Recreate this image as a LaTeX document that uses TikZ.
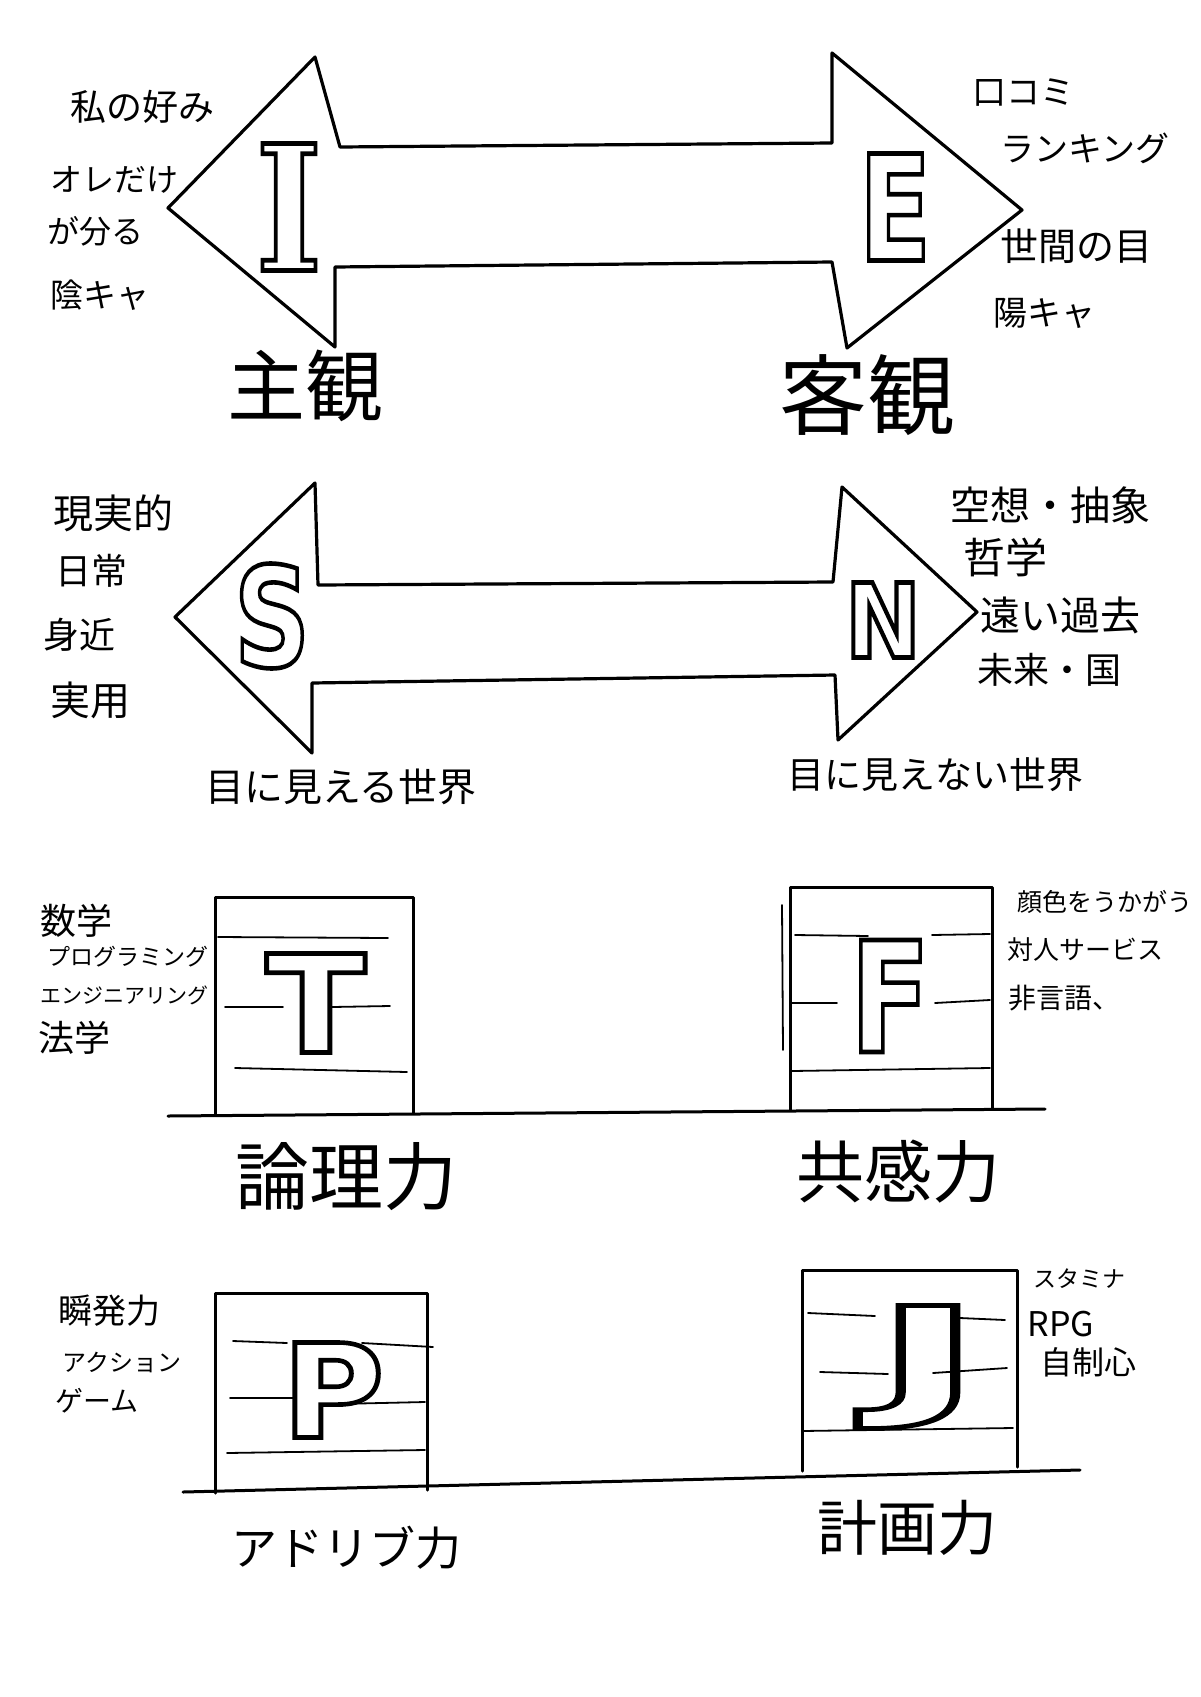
\documentclass[tikz,border=0pt]{standalone}
\usepackage{fontspec}
\usepackage{graphicx}
\newfontfamily\jpf{Noto Sans CJK JP}
\newfontfamily\letf{DejaVu Sans}
\newfontfamily\serf{DejaVu Serif}
\newcommand\fsz[1]{\fontsize{#1}{#1}\selectfont}
% #1 width, #2 total height, #3 font size, #4 letter
\newcommand\outl[4]{\resizebox*{#1}{#2}{\fsz{#3}\special{pdf:literal direct 1 Tr 2.3 w}#4\special{pdf:literal direct 0 Tr}}}
\tikzset{
  bigarrow/.style={line width=1.6pt, line join=round},
  boxline/.style={line width=1.5pt, line join=round, line cap=round},
  stripe/.style={line width=0.9pt, line cap=round},
  groundline/.style={line width=1.5pt, line cap=round},
  jp/.style={font=\jpf, inner sep=0pt, anchor=west},
  lbl/.style={font=\jpf, inner sep=0pt, anchor=center},
  letter/.style={inner sep=0pt, anchor=center}
}
\begin{document}
\begin{tikzpicture}[x=0.5pt, y=-0.5pt]
\fill[white] (0,0) rectangle (1200,1697);
\path[use as bounding box] (0,0) rectangle (1200,1697);

% ---------- I / E arrow ----------
\draw[bigarrow] (168,208) -- (315,57) -- (340,147) -- (832,143) -- (832,53)
  -- (1022,210) -- (847,348) -- (832,262) -- (335,267) -- (335,347) -- cycle;
\node[letter] (letI) at (289,207) {\outl{33pt}{63.5pt}{87pt}{\serf\bfseries I}};
\node[letter] (letE) at (895,207) {\outl{36pt}{53.5pt}{73pt}{\letf\bfseries E}};

\node[jp] (i1) at (70,107) {\fsz{18pt}私の好み};
\node[jp] (i2) at (50,180) {\fsz{16pt}オレだけ};
\node[jp] (i3) at (47,231) {\fsz{16pt}が分る};
\node[jp] (i4) at (50,295) {\fsz{16.5pt}陰キャ};
\node[jp] (e1) at (972,93) {\fsz{17pt}口コミ};
\node[jp] (e2) at (1000,148) {\fsz{17pt}ランキング};
\node[jp] (e3) at (1000,246) {\fsz{19pt}世間の目};
\node[jp] (e4) at (993,313) {\fsz{17pt}陽キャ};
\node[lbl] (labI) at (305,386) {\fsz{39pt}主観};
\node[lbl] (labE) at (867,395) {\fsz{44pt}客観};

% ---------- S / N arrow ----------
\draw[bigarrow] (175,617) -- (315,483) -- (318,585) -- (833,582) -- (842,487)
  -- (977,612) -- (838,740) -- (835,675) -- (312,683) -- (312,753) -- cycle;
\node[letter] (letS) at (272,616) {\outl{38pt}{52.5pt}{70pt}{\letf\bfseries S}};
\node[letter] (letN) at (883,620) {\outl{38pt}{37.5pt}{51pt}{\letf\bfseries N}};

\node[jp] (s1) at (53,513) {\fsz{20pt}現実的};
\node[jp] (s2) at (55,571) {\fsz{18pt}日常};
\node[jp] (s3) at (43,635) {\fsz{18pt}身近};
\node[jp] (s4) at (50,700) {\fsz{20pt}実用};
\node[jp] (n1) at (950,505) {\fsz{20pt}空想・抽象};
\node[jp] (n2) at (963,557) {\fsz{21pt}哲学};
\node[jp] (n3) at (980,615) {\fsz{20pt}遠い過去};
\node[jp] (n4) at (977,670) {\fsz{18pt}未来・国};
\node[lbl] (labS) at (341,787) {\fsz{19.5pt}目に見える世界};
\node[lbl] (labN) at (935,775) {\fsz{18.5pt}目に見えない世界};

% ---------- T / F ----------
\draw[groundline] (168,1116) -- (1045,1109);
\draw[boxline] (215,1114) -- (215,897) -- (413,897) -- (413,1113);
\draw[stripe] (218,937) -- (388,938);
\draw[stripe] (225,1007) -- (283,1007);
\draw[stripe] (332,1007) -- (390,1006);
\draw[stripe] (235,1068) -- (407,1072);
\node[letter] (letT) at (316,1003) {\outl{50pt}{49.5pt}{68pt}{\letf\bfseries T}};

\draw[boxline] (790,1110) -- (790,887) -- (992,887) -- (992,1109);
\draw[stripe] (782,905) -- (783,1050);
\draw[stripe] (795,935) -- (868,936);
\draw[stripe] (932,935) -- (990,934);
\draw[stripe] (790,1003) -- (837,1003);
\draw[stripe] (935,1003) -- (990,1000);
\draw[stripe] (792,1071) -- (990,1068);
\node[letter] (letF) at (890,996) {\outl{40pt}{56pt}{77pt}{\letf\bfseries F}};

\node[jp] (t1) at (40,921) {\fsz{18pt}数学};
\node[jp] (t2) at (47,957) {\fsz{11.5pt}プログラミング};
\node[jp] (t3) at (40,995) {\fsz{10.5pt}エンジニアリング};
\node[jp] (t4) at (38,1038) {\fsz{18pt}法学};
\node[jp] (f1) at (1017,902) {\fsz{12.5pt}顔色をうかがう};
\node[jp] (f2) at (1007,950) {\fsz{13pt}対人サービス};
\node[jp] (f3) at (1008,998) {\fsz{14pt}非言語、};
\node[lbl] (labT) at (346,1177) {\fsz{37pt}論理力};
\node[lbl] (labF) at (898,1172) {\fsz{34pt}共感力};

% ---------- P / J ----------
\draw[groundline] (183,1492) -- (1080,1470);
\draw[boxline] (215,1493) -- (215,1293) -- (427,1293) -- (427,1490);
\draw[stripe] (233,1341) -- (287,1343);
\draw[stripe] (362,1343) -- (433,1347);
\draw[stripe] (230,1398) -- (293,1398);
\draw[stripe] (337,1404) -- (425,1402);
\draw[stripe] (227,1453) -- (425,1450);
\node[letter] (letP) at (333,1390) {\outl{51pt}{47.5pt}{65pt}{\letf\bfseries P}};

\draw[boxline] (802,1471) -- (802,1270) -- (1017,1270) -- (1017,1467);
\draw[stripe] (808,1313) -- (875,1316);
\draw[stripe] (960,1318) -- (1005,1320);
\draw[stripe] (820,1372) -- (888,1374);
\draw[stripe] (933,1373) -- (1007,1368);
\draw[stripe] (802,1431) -- (1013,1428);
\node[letter] (letJ) at (928,1367) {\outl{54pt}{61.5pt}{66pt}{\letf\bfseries J}};

\node[jp] (p1) at (58,1311) {\fsz{17pt}瞬発力};
\node[jp] (p2) at (62,1362) {\fsz{12pt}アクション};
\node[jp] (p3) at (55,1401) {\fsz{14pt}ゲーム};
\node[jp] (j1) at (1033,1279) {\fsz{11.5pt}スタミナ};
\node[jp] (j2) at (1027,1324) {\fsz{17pt}RPG};
\node[jp] (j3) at (1040,1362) {\fsz{16pt}自制心};
\node[lbl] (labP) at (346,1548) {\fsz{23pt}アドリブ力};
\node[lbl] (labJ) at (907,1528) {\fsz{30pt}計画力};
\end{tikzpicture}
\end{document}
